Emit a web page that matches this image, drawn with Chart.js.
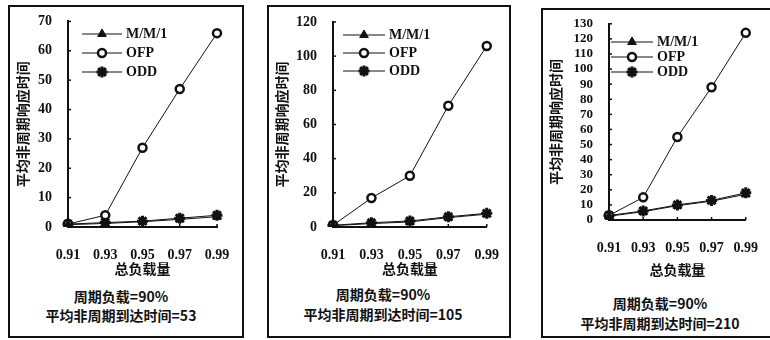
<!DOCTYPE html>
<html>
<head>
<meta charset="utf-8">
<script src="https://cdn.jsdelivr.net/npm/chart.js@4.4.1/dist/chart.umd.min.js"></script>
<style>
  body { margin: 0; background: #fff; }
  #wrap { position: relative; width: 770px; height: 340px; overflow: hidden; background: #fff; }
  .box { position: absolute; border: 2px solid #111; box-sizing: border-box; }
  .cv { position: absolute; }
  .cap { position: absolute; font-family: "Noto Sans CJK SC", sans-serif; font-weight: bold;
         font-size: 14px; line-height: 16px; color: #111; text-align: center; white-space: nowrap; transform: translateX(-50%); }
</style>
</head>
<body>
<div id="wrap">
  <div class="box" style="left:8px;top:5px;width:236px;height:333px;"></div>
  <div class="box" style="left:267px;top:5px;width:244px;height:333px;"></div>
  <div class="box" style="left:541px;top:8px;width:240px;height:330px;"></div>

  <div class="cv" style="left:8px;top:5px;width:236px;height:272px;"><canvas id="c1"></canvas></div>
  <div class="cv" style="left:267px;top:5px;width:244px;height:272px;"><canvas id="c2"></canvas></div>
  <div class="cv" style="left:541px;top:8px;width:229px;height:270px;"><canvas id="c3"></canvas></div>

  <div class="cap" style="left:121px;top:288px;">周期负载=90%</div>
  <div class="cap" style="left:121px;top:307px;">平均非周期到达时间=53</div>
  <div class="cap" style="left:383px;top:286px;">周期负载=90%</div>
  <div class="cap" style="left:383px;top:306px;">平均非周期到达时间=105</div>
  <div class="cap" style="left:660px;top:295px;">周期负载=90%</div>
  <div class="cap" style="left:660px;top:315px;">平均非周期到达时间=210</div>
</div>
<script>
/* ============== data ===========*/
const loads = ['0.91', '0.93', '0.95', '0.97', '0.99'];
const seriesNames = ['M/M/1', 'OFP', 'ODD'];

// 平均非周期到达时间 = 53
const mm1_53 = [0.8, 1.2, 1.8, 2.6, 3.5];
const ofp_53 = [1, 4, 27, 47, 66];
const odd_53 = [1, 1.5, 2, 3, 4];

// = 105
const mm1_105 = [0.8, 2, 3, 5.5, 7.5];
const ofp_105 = [1, 17, 30, 71, 106];
const odd_105 = [1, 2.5, 3.5, 6, 8];

// = 210
const mm1_210 = [2.5, 5.5, 9.5, 12.5, 17];
const ofp_210 = [3, 15, 55, 88, 124];
const odd_210 = [3, 6, 10, 13, 18];

const yMax = [70, 120, 130];
const yStep = [10, 20, 10];

/* ============== helpers ===========*/
const numFont = { family: 'Liberation Serif, serif', weight: 'bold', size: 14 };
const cjkFont = { family: 'Noto Sans CJK SC, sans-serif', weight: 'bold', size: 14 };

const styles = [
  { pointStyle: 'triangle', pointRadius: 5, backgroundColor: '#111', borderColor: '#111', pointBorderWidth: 1 },
  { pointStyle: 'circle', pointRadius: 4, backgroundColor: '#fff', borderColor: '#111', pointBorderWidth: 2.5 },
  { pointStyle: 'star', pointRadius: 5.5, backgroundColor: '#111', borderColor: '#111', pointBorderWidth: 3 }
];

function makeSets(a, b, c) {
  return [a, b, c].map((d, i) => ({
    label: seriesNames[i],
    data: d,
    borderWidth: 1,
    ...styles[i]
  }));
}

// legend inside the plot + inward ticks
const innerLegend = {
  id: 'innerLegend',
  afterDraw(chart, args, opts) {
    const ctx = chart.ctx;
    const ys = chart.scales.y, xs = chart.scales.x;
    ctx.save();
    ctx.strokeStyle = '#111';
    ctx.lineWidth = 1.5;
    ys.ticks.forEach(t => {
      const py = ys.getPixelForValue(t.value);
      ctx.beginPath(); ctx.moveTo(ys.right, py); ctx.lineTo(ys.right + 3, py); ctx.stroke();
    });
    xs.ticks.forEach((t, i) => {
      const px = xs.getPixelForValue(i);
      ctx.beginPath(); ctx.moveTo(px, xs.top); ctx.lineTo(px, xs.top - 3); ctx.stroke();
    });
    // legend
    chart.data.datasets.forEach((ds, i) => {
      const y = opts.y + i * opts.gap;
      ctx.strokeStyle = '#111';
      ctx.lineWidth = 1;
      ctx.beginPath(); ctx.moveTo(opts.x, y); ctx.lineTo(opts.x + opts.len, y); ctx.stroke();
      ctx.fillStyle = ds.backgroundColor;
      ctx.strokeStyle = ds.borderColor;
      ctx.lineWidth = ds.pointBorderWidth;
      Chart.helpers.drawPoint(ctx, { pointStyle: ds.pointStyle, radius: ds.pointRadius, borderWidth: ds.pointBorderWidth }, opts.x + opts.len / 2, y);
      ctx.fillStyle = '#111';
      ctx.font = 'bold 14px Liberation Serif, serif';
      ctx.textBaseline = 'middle';
      ctx.fillText(ds.label, opts.x + opts.len + 4, y);
    });
    ctx.restore();
  }
};

function makeChart(id, sets, k, area, legendPos) {
  return new Chart(document.getElementById(id), {
    type: 'line',
    data: { labels: loads, datasets: sets },
    plugins: [innerLegend],
    options: {
      responsive: true,
      maintainAspectRatio: false,
      animation: false,
      layout: { padding: { left: 2, right: area.right, top: area.top, bottom: 0 } },
      plugins: {
        legend: { display: false },
        tooltip: { enabled: false },
        innerLegend: legendPos
      },
      scales: {
        x: {
          offset: false,
          grid: { display: false },
          border: { display: true, color: '#111', width: 2 },
          ticks: { color: '#111', font: numFont, padding: 12, maxRotation: 0, autoSkip: false },
          title: { display: true, text: '总负载量', color: '#111', font: cjkFont, padding: { top: 0, bottom: 0 } },
          afterFit: s => { s.height = area.xh; }
        },
        y: {
          min: 0, max: yMax[k],
          grid: { display: false },
          border: { display: true, color: '#111', width: 2 },
          ticks: { stepSize: yStep[k], autoSkip: false, color: '#111', font: { ...numFont, size: k === 2 ? 13 : 14 }, padding: 8 },
          title: { display: true, text: '平均非周期响应时间', color: '#111', font: cjkFont, padding: { top: 4, bottom: 0 } },
          afterFit: s => { s.width = area.yw; }
        }
      }
    }
  });
}

makeChart('c1', makeSets(mm1_53, ofp_53, odd_53), 0,
  { right: 27, top: 15, xh: 50, yw: 58 }, { x: 74, y: 29, gap: 19, len: 40 });
makeChart('c2', makeSets(mm1_105, ofp_105, odd_105), 1,
  { right: 24, top: 17, xh: 50, yw: 64 }, { x: 76, y: 30, gap: 18, len: 42 });
makeChart('c3', makeSets(mm1_210, ofp_210, odd_210), 2,
  { right: 8, top: 15, xh: 58, yw: 66 }, { x: 70, y: 34, gap: 15, len: 42 });
</script>
</body>
</html>
